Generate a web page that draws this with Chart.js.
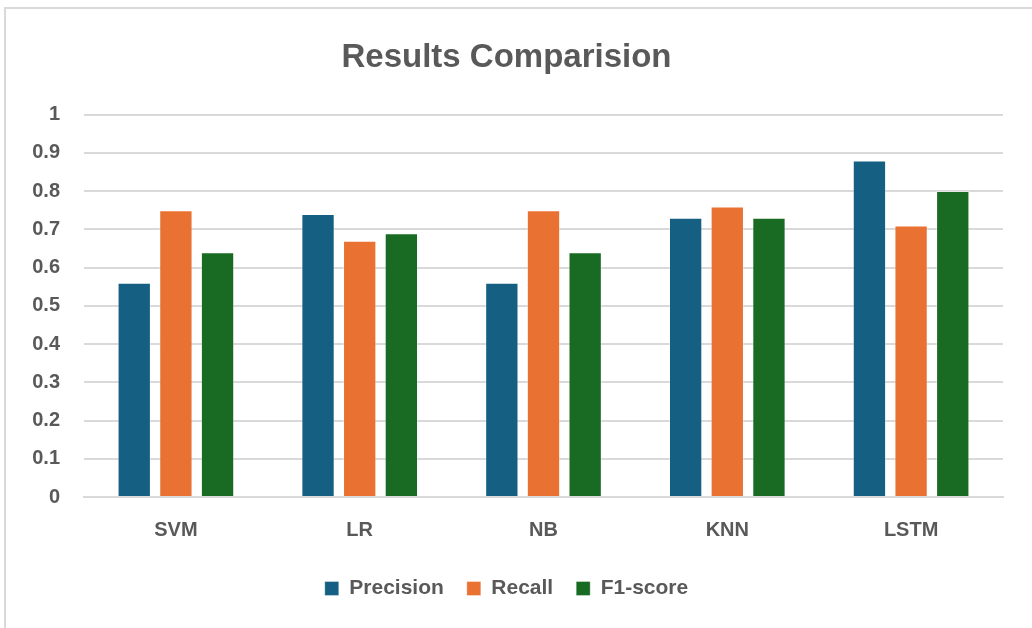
<!DOCTYPE html>
<html>
<head>
<meta charset="utf-8">
<script src="https://cdn.jsdelivr.net/npm/chart.js@4.4.1/dist/chart.umd.min.js"></script>
<style>
  html, body { margin: 0; padding: 0; background: #ffffff; }
  #frame {
    position: absolute; left: 4px; top: 7px; width: 1040px; height: 630px;
    border: 2px solid #d9d9d9; box-sizing: border-box;
  }
  #wrap { position: absolute; left: 0; top: 0; width: 1032px; height: 628px; }
</style>
</head>
<body>
<div id="frame"></div>
<div id="wrap"><canvas id="chart" width="1032" height="628"></canvas></div>
<script>
// Model names along the x axis
const categories = ['SVM', 'LR', 'NB', 'KNN', 'LSTM'];
// Scores per model
const precision = [0.56, 0.74, 0.56, 0.73, 0.88];
const recall    = [0.75, 0.67, 0.75, 0.76, 0.71];
const f1Score   = [0.64, 0.69, 0.64, 0.73, 0.80];
// Y axis tick values
const yTicks = [0, 0.1, 0.2, 0.3, 0.4, 0.5, 0.6, 0.7, 0.8, 0.9, 1];

const textColor = '#595959';
const gridColor = '#d9d9d9';
const baseFont = "'Liberation Sans', 'DejaVu Sans', sans-serif";

const ds = (label, data, color) => ({
  label, data,
  backgroundColor: color,
  borderColor: 'rgba(255,255,255,0.35)',
  borderWidth: 1,
  categoryPercentage: 0.68,
  barPercentage: 0.8
});

new Chart(document.getElementById('chart'), {
  type: 'bar',
  data: {
    labels: categories,
    datasets: [
      ds('Precision', precision, '#156082'),
      ds('Recall', recall, '#E97132'),
      ds('F1-score', f1Score, '#196B24')
    ]
  },
  options: {
    responsive: false,
    animation: false,
    layout: { padding: { left: 10, right: 29, top: 0, bottom: 19 } },
    plugins: {
      title: {
        display: true,
        text: 'Results Comparision',
        color: textColor,
        font: { family: baseFont, size: 33, weight: 'bold' },
        padding: { top: 38, bottom: 37 }
      },
      legend: {
        position: 'bottom',
        labels: {
          color: textColor,
          font: { family: baseFont, size: 21, weight: 'bold' },
          boxWidth: 14, boxHeight: 14, padding: 23
        }
      },
      tooltip: { enabled: false }
    },
    scales: {
      x: {
        grid: { display: false },
        border: { color: gridColor, width: 2 },
        ticks: {
          color: textColor,
          font: { family: baseFont, size: 20, weight: 'bold' },
          padding: 13
        }
      },
      y: {
        min: 0, max: 1,
        afterBuildTicks: (scale) => { scale.ticks = yTicks.map(v => ({ value: v })); },
        afterFit: (scale) => { scale.width = 74; },
        grid: { color: gridColor, lineWidth: 2, drawTicks: false },
        border: { display: false },
        ticks: {
          color: textColor,
          font: { family: baseFont, size: 20, weight: 'bold' },
          padding: 24,
          callback: (v) => String(Math.round(v * 10) / 10)
        }
      }
    }
  }
});
</script>
</body>
</html>
